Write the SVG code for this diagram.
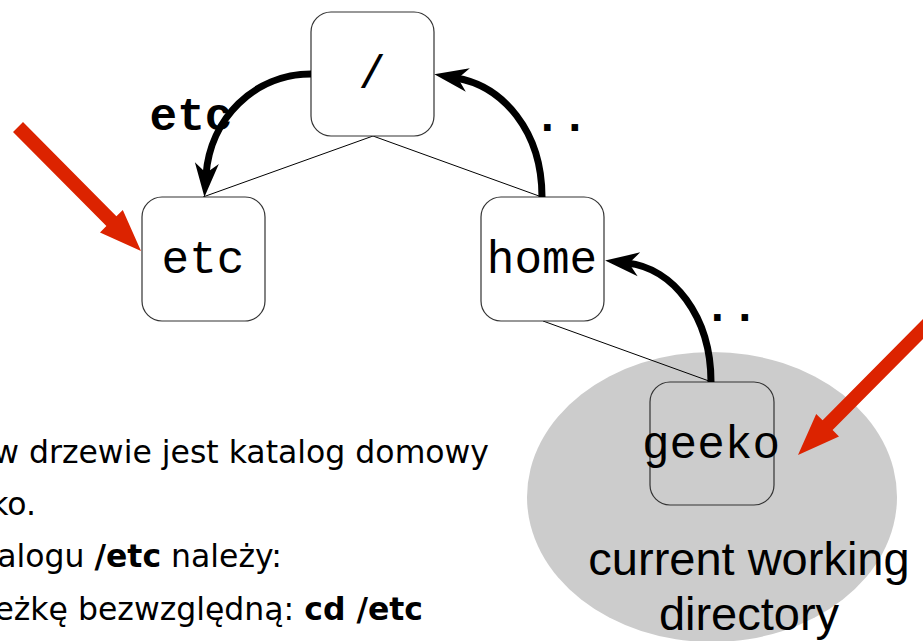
<svg xmlns="http://www.w3.org/2000/svg" width="923" height="641" viewBox="0 0 923 641">
<style>
.box{fill:#fff;stroke:#333;stroke-width:1.2}
.mono{font-family:"Liberation Mono","DejaVu Sans Mono",monospace;font-size:46px;fill:#000;text-anchor:middle}
.lbl{font-family:"Liberation Mono","DejaVu Sans Mono",monospace;font-size:46px;font-weight:bold;fill:#000;text-anchor:middle}
.thin{fill:none;stroke:#000;stroke-width:1}
.thick{fill:none;stroke:#000;stroke-width:7;marker-end:url(#ah)}
.red{fill:#dc2300}
.body{font-family:"DejaVu Sans","Noto Sans",sans-serif;font-size:31.5px;fill:#000;text-anchor:end}
.cwd{font-family:"Liberation Sans",Arial,sans-serif;font-size:47px;fill:#000;text-anchor:middle}
</style>
<defs>
<marker id="ah" markerUnits="userSpaceOnUse" orient="auto" refX="12" refY="0" viewBox="0 -13 35 26" markerWidth="35" markerHeight="26" overflow="visible">
<path d="M34,0 L0,-12 L10,0 L0,12 Z" fill="#000"/>
</marker>
</defs>
<rect width="923" height="641" fill="#fff"/>
<ellipse cx="712" cy="497" rx="185" ry="145" fill="#cccccc"/>
<g id="connectors">
<path class="thin" d="M373,136 L203,197"/>
<path class="thin" d="M373,136 L539,196"/>
<path class="thin" d="M543,321 L709,381"/>
</g>
<g id="node-root"><rect class="box" x="311" y="12" width="123" height="124" rx="20"/><text class="mono" x="372" y="88">/</text></g>
<g id="node-etc"><rect class="box" x="142" y="197" width="123" height="124" rx="20"/><text class="mono" x="203" y="273">etc</text></g>
<g id="node-home"><rect class="box" x="481" y="197" width="123" height="124" rx="20"/><text class="mono" x="542" y="273">home</text></g>
<g id="node-geeko"><rect class="box" x="650" y="382" width="124" height="123" rx="20" style="fill:none"/><text class="mono" x="711" y="458">geeko</text></g>
<g id="arrows">
<path class="thick" d="M311,74 C254,74 210,119 206,175"/>
<path class="thick" d="M542,197 C542,131 503,86 456,78"/>
<path class="thick" d="M711,382 C711,316 673,268 627,263"/>
</g>
<g id="labels">
<text class="lbl" x="191" y="130">etc</text>
<text class="lbl" x="561" y="131">..</text>
<text class="lbl" x="731" y="321">..</text>
</g>
<g id="red-arrows">
<polygon class="red" points="23,122.1 116.4,216.3 122.8,209.9 141,251 100,232.5 106.4,226.1 13,131.9"/>
<polygon class="red" points="925,317.1 822.6,420.3 816.2,413.9 798,455 839,436.5 832.6,430.1 935,326.9"/>
</g>
<g id="text">
<text class="body" x="489" y="463">w drzewie jest katalog domowy</text>
<text class="body" x="36" y="515">ko.</text>
<text class="body" x="282" y="567">alogu <tspan font-weight="bold">/etc</tspan> należy:</text>
<text class="body" x="423" y="620">eżkę bezwzględną: <tspan font-weight="bold">cd /etc</tspan></text>
<text class="cwd" x="749" y="575">current working</text>
<text class="cwd" x="749" y="630">directory</text>
</g>
</svg>
